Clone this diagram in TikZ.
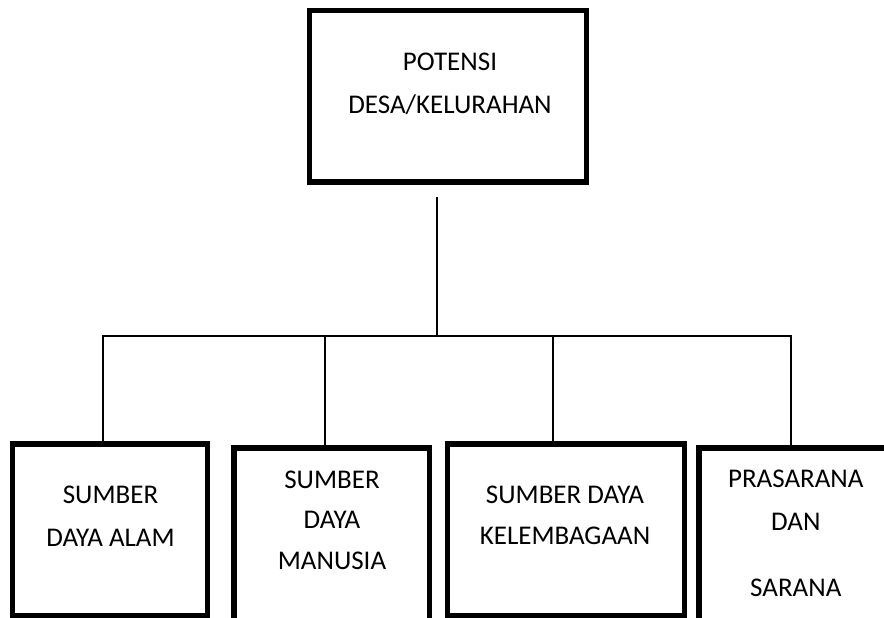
\documentclass[tikz,border=0pt]{standalone}
\usepackage{fontspec}
\setmainfont{Carlito}
\begin{document}
\begin{tikzpicture}[x=1pt,y=-1pt,
  boxnode/.style={draw, line width=5.5pt, rectangle, inner sep=0pt, outer sep=0pt},
  conn/.style={line width=2pt, line join=miter},
  lbl/.style={anchor=base, inner sep=0pt, font=\fontsize{27}{32}\selectfont}]
\useasboundingbox (0,0) rectangle (884,618);
\clip (0,0) rectangle (884,618);
% boxes
\node[boxnode, minimum width=276.8pt, minimum height=171.7pt] (top) at (448.1,96.2) {};
\node[boxnode, minimum width=195pt, minimum height=171.5pt] (b1) at (110,529.75) {};
\node[boxnode, minimum width=195.5pt, minimum height=192pt] (b2) at (331.75,544) {};
\node[boxnode, minimum width=237pt, minimum height=171.5pt] (b3) at (566,529.75) {};
\node[boxnode, minimum width=194pt, minimum height=192pt] (b4) at (796,544) {};
% texts
\node[lbl] (t1) at (450,70.7) {POTENSI};
\node[lbl] (t2) at (450,113.3) {DESA/KELURAHAN};
\node[lbl] (a1) at (110.5,503.3) {SUMBER};
\node[lbl] (a2) at (110.5,546) {DAYA ALAM};
\node[lbl] (m1) at (332,488.3) {SUMBER};
\node[lbl] (m2) at (332,528.3) {DAYA};
\node[lbl] (m3) at (332,569) {MANUSIA};
\node[lbl] (k1) at (565,503.3) {SUMBER DAYA};
\node[lbl] (k2) at (565,544) {KELEMBAGAAN};
\node[lbl] (p1) at (795.8,487.7) {PRASARANA};
\node[lbl] (p2) at (795.8,530) {DAN};
\node[lbl] (p3) at (795.8,596.7) {SARANA};
% connectors
\coordinate (ctop) at (437,197);
\coordinate (hub) at (437,336);
\coordinate (hl) at (102.6,336);
\coordinate (hr) at (791,336);
\coordinate (d2) at (325,337);
\coordinate (d3) at (553.3,337);
\draw[conn] (ctop) -- (hub);
\draw[conn] (hl |- b1.north) -- (hl) -- (hr) -- (hr |- b4.north);
\draw[conn] (d2) -- (d2 |- b2.north);
\draw[conn] (d3) -- (d3 |- b3.north);
\end{tikzpicture}
\end{document}
